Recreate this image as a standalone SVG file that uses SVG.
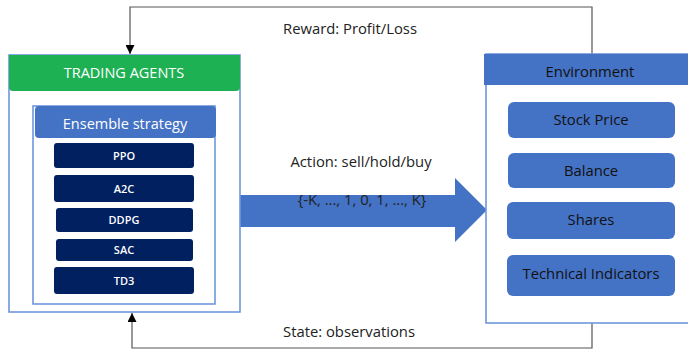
<svg xmlns="http://www.w3.org/2000/svg" width="688" height="351" viewBox="0 0 688 351">
  <style>
    .frame { fill: #ffffff; stroke: #6f96dc; stroke-width: 1.6; }
    .algo { fill: #002060; }
    .algo-t { font-family: "Open Sans", "Liberation Sans", sans-serif; font-size: 11px; font-weight: 600; fill: #ffffff; text-anchor: middle; }
    .env-item { fill: #4472c4; }
    .env-t { font-family: "Open Sans", "Liberation Sans", sans-serif; font-size: 14.8px; fill: #111111; text-anchor: middle; }
    .label { font-family: "Open Sans", "Liberation Sans", sans-serif; font-size: 14.8px; fill: #222222; text-anchor: middle; }
    .link { fill: none; stroke: #555555; stroke-width: 1.2; }
  </style>
  <defs>
    <marker id="tri" viewBox="0 0 10 10" refX="10" refY="5" markerWidth="9" markerHeight="9" markerUnits="userSpaceOnUse" orient="auto">
      <path d="M0,0 L10,5 L0,10 z" fill="#000000"/>
    </marker>
  </defs>

  <rect width="688" height="351" fill="#ffffff"/>

  <!-- feedback loops and the action arrow -->
  <g id="connectors">
    <path class="link" d="M592,54 V7 H130 V54" marker-end="url(#tri)"/>
    <path class="link" d="M592,323 V348 H132 V313" marker-end="url(#tri)"/>
    <path d="M240,195 H455 V178 L487,210 L455,242 V227 H240 z" fill="#4472c4"/>
  </g>

  <g id="trading-agents">
    <rect class="frame" x="9" y="55" width="231" height="257"/>
    <path d="M9,55 H240 V87 Q240,91 236,91 H13 Q9,91 9,87 z" fill="#1db153"/>
    <text x="124" y="78" font-family="'Open Sans','Liberation Sans',sans-serif" font-size="14.5" fill="#ffffff" text-anchor="middle">TRADING AGENTS</text>
  </g>

  <g id="ensemble">
    <rect class="frame" x="33" y="106" width="182" height="198"/>
    <rect x="35" y="106" width="181" height="32" rx="4" fill="#4472c4"/>
    <text x="125" y="129" font-family="'Open Sans','Liberation Sans',sans-serif" font-size="14.5" fill="#ffffff" text-anchor="middle">Ensemble strategy</text>
  </g>

  <g id="ppo"><rect class="algo" x="54" y="143" width="140" height="25" rx="3"/><text class="algo-t" x="124" y="159.5">PPO</text></g>
  <g id="a2c"><rect class="algo" x="54" y="175" width="140" height="27" rx="3"/><text class="algo-t" x="124" y="192.5">A2C</text></g>
  <g id="ddpg"><rect class="algo" x="56" y="208" width="137" height="24" rx="3"/><text class="algo-t" x="124" y="224">DDPG</text></g>
  <g id="sac"><rect class="algo" x="56" y="239" width="137" height="22" rx="3"/><text class="algo-t" x="124" y="254">SAC</text></g>
  <g id="td3"><rect class="algo" x="54" y="267" width="140" height="27" rx="3"/><text class="algo-t" x="124" y="284.5">TD3</text></g>

  <g id="environment">
    <rect class="frame" x="486" y="54" width="210" height="269"/>
    <rect x="484" y="54" width="210" height="31" fill="#4472c4"/>
    <text x="590" y="77" class="env-t">Environment</text>
  </g>

  <g id="stock-price"><rect class="env-item" x="508" y="102" width="167" height="36" rx="6"/><text class="env-t" x="591" y="125">Stock Price</text></g>
  <g id="balance"><rect class="env-item" x="508" y="153" width="167" height="35" rx="6"/><text class="env-t" x="591" y="176">Balance</text></g>
  <g id="shares"><rect class="env-item" x="507" y="202" width="168" height="37" rx="6"/><text class="env-t" x="591" y="225">Shares</text></g>
  <g id="technical-indicators"><rect class="env-item" x="507" y="255" width="168" height="41" rx="6"/><text class="env-t" x="591" y="278.5">Technical Indicators</text></g>

  <g id="labels">
    <text class="label" x="350" y="34">Reward: Profit/Loss</text>
    <text class="label" x="361" y="167">Action: sell/hold/buy</text>
    <text class="label" x="362" y="205">{-K, ..., 1, 0, 1, ..., K}</text>
    <text class="label" x="349" y="337">State: observations</text>
  </g>
</svg>
